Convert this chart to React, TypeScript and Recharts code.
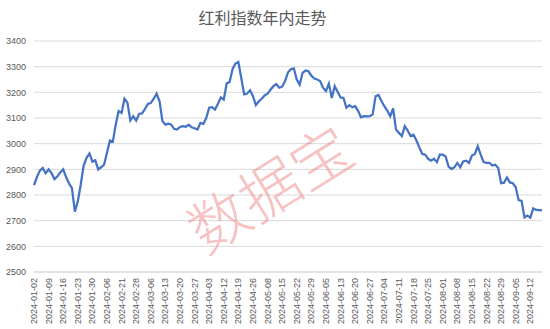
import { LineChart, Line, XAxis, YAxis, CartesianGrid } from 'recharts'

const months = ['01', '02', '03', '04', '05', '06', '07', '08', '09']
const tradingDays: string[][] = [
  ['02', '03', '04', '05', '08', '09', '10', '11', '12', '15', '16', '17', '18', '19', '22', '23', '24', '25', '26', '29', '30', '31'],
  ['01', '02', '05', '06', '07', '08', '19', '20', '21', '22', '23', '26', '27', '28', '29'],
  ['01', '04', '05', '06', '07', '08', '11', '12', '13', '14', '15', '18', '19', '20', '21', '22', '25', '26', '27', '28', '29'],
  ['01', '02', '03', '08', '09', '10', '11', '12', '15', '16', '17', '18', '19', '22', '23', '24', '25', '26', '29', '30'],
  ['06', '07', '08', '09', '10', '13', '14', '15', '16', '17', '20', '21', '22', '23', '24', '27', '28', '29', '30', '31'],
  ['03', '04', '05', '06', '07', '11', '12', '13', '14', '17', '18', '19', '20', '21', '24', '25', '26', '27', '28'],
  ['01', '02', '03', '04', '05', '08', '09', '10', '11', '12', '15', '16', '17', '18', '19', '22', '23', '24', '25', '26', '29', '30', '31'],
  ['01', '02', '05', '06', '07', '08', '09', '12', '13', '14', '15', '16', '19', '20', '21', '22', '23', '26', '27', '28', '29', '30'],
  ['02', '03', '04', '05', '06', '09', '10', '11', '12', '13', '18', '19', '20'],
]

// index closing values
const closes = [
  2838, 2870, 2895, 2905, 2885, 2900, 2885, 2862, 2872, 2888,
  2900, 2870, 2845, 2827, 2735, 2775, 2840, 2915, 2945, 2962,
  2930, 2935, 2900, 2908, 2918, 2965, 3012, 3008, 3075, 3127,
  3120, 3175, 3160, 3090, 3107, 3090, 3116, 3118, 3135, 3155,
  3158, 3175, 3195, 3165, 3088, 3074, 3078, 3074, 3058, 3055,
  3065, 3068, 3066, 3074, 3064, 3060, 3055, 3081, 3077, 3100,
  3140, 3142, 3133, 3155, 3180, 3172, 3235, 3240, 3290, 3312,
  3318, 3255, 3192, 3195, 3208, 3185, 3150, 3165, 3175, 3188,
  3195, 3210, 3224, 3232, 3218, 3222, 3244, 3278, 3290, 3293,
  3250, 3230, 3276, 3285, 3282, 3265, 3254, 3250, 3244, 3218,
  3205, 3234, 3178, 3224, 3202, 3180, 3178, 3140, 3150, 3142,
  3146, 3128, 3103, 3107, 3106, 3107, 3114, 3185, 3190, 3166,
  3146, 3129, 3107, 3137, 3055, 3042, 3030, 3068, 3051, 3030,
  3035, 3012, 2985, 2960, 2957, 2941, 2934, 2941, 2928, 2957,
  2957, 2950, 2911, 2901, 2908, 2925, 2908, 2931, 2934, 2925,
  2954, 2960, 2990, 2957, 2928, 2925, 2925, 2915, 2918, 2905,
  2846, 2848, 2868, 2849, 2846, 2830, 2780, 2777, 2713, 2720,
  2712, 2748, 2742, 2741, 2740,
]

const yTicks = [2500, 2600, 2700, 2800, 2900, 3000, 3100, 3200, 3300, 3400]

const dates = months.flatMap((m, i) => tradingDays[i].map((d) => `2024-${m}-${d}`))
const data = dates.map((date, i) => ({ date, value: closes[i] }))

const DateTick = ({ x, y, payload }: any) => {
  const ty = y - 2
  return (
    <text
      x={x}
      y={ty}
      transform={`rotate(-90 ${x} ${ty})`}
      textAnchor="end"
      dominantBaseline="central"
      fontSize={9}
      fill="#595959"
      fontFamily="Liberation Sans, Arial, sans-serif"
    >
      {payload.value}
    </text>
  )
}

export default function App() {
  return (
    <div style={{ position: 'absolute', left: 0, top: 0, width: 550, height: 329, background: '#fff' }}>
      <div
        style={{
          position: 'absolute',
          left: 0,
          width: 525,
          top: 5,
          textAlign: 'center',
          fontSize: 16,
          color: '#595959',
          fontFamily: '"Noto Sans CJK SC", sans-serif',
        }}
      >
        红利指数年内走势
      </div>
      <LineChart width={550} height={329} data={data} margin={{ top: 41, right: 8, left: 0, bottom: 0 }}>
        <CartesianGrid vertical={false} stroke="#d9d9d9" />
        <XAxis
          dataKey="date"
          interval={4}
          height={57}
          tickLine={false}
          axisLine={{ stroke: '#d9d9d9' }}
          tick={<DateTick />}
        />
        <YAxis
          width={34}
          domain={[2500, 3400]}
          ticks={yTicks}
          axisLine={false}
          tickLine={false}
          tick={{ fontSize: 9, fill: '#595959', fontFamily: 'Liberation Sans, Arial, sans-serif' }}
        />
        <Line
          type="linear"
          dataKey="value"
          stroke="#4472c4"
          strokeWidth={2.25}
          dot={false}
          isAnimationActive={false}
        />
      </LineChart>
      <div
        style={{
          position: 'absolute',
          left: 168,
          top: 156,
          width: 200,
          textAlign: 'center',
          fontSize: 60,
          fontWeight: 300,
          color: 'rgba(235, 120, 120, 0.45)',
          fontFamily: '"Noto Sans CJK SC", sans-serif',
          transform: 'rotate(-32deg)',
          pointerEvents: 'none',
          lineHeight: 1,
        }}
      >
        数据宝
      </div>
    </div>
  )
}
